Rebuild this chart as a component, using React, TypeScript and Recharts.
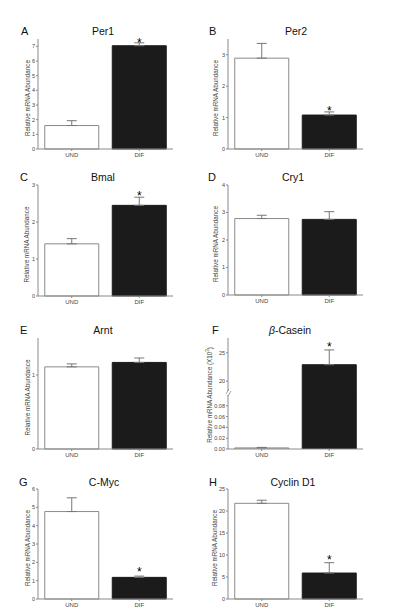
import React from 'react';
import { ComposedChart, Bar, Cell, ErrorBar, Scatter, XAxis, YAxis } from 'recharts';

const FONT = '"Liberation Sans", Arial, sans-serif';
const AXIS = '#8a8a8a';
const TEXT = '#444';

const categories = ['UND', 'DIF'];
const barFills = ['#ffffff', '#1b1b1b'];
const barStrokes = ['#8a8a8a', '#1b1b1b'];

// values (mean, upper error, asterisk height)
const per1 = [1.6, 7.04];
const per1Err = [0.33, 0.2];
const per1Star = [null, 7.43];

const per2 = [2.89, 1.08];
const per2Err = [0.47, 0.1];
const per2Star = [null, 1.3];

const bmal = [1.41, 2.45];
const bmalErr = [0.14, 0.22];
const bmalStar = [null, 2.78];

const cry1 = [2.78, 2.75];
const cry1Err = [0.12, 0.28];
const cry1Star = [null, null];

const arnt = [1.11, 1.17];
const arntErr = [0.04, 0.06];
const arntStar = [null, null];

const casein = [0.002, 22.9];
const caseinErr = [0.001, 2.6];
const caseinStar = [null, 26.5];

const cmyc = [4.77, 1.18];
const cmycErr = [0.75, 0.07];
const cmycStar = [null, 1.64];

const cyclin = [21.75, 5.9];
const cyclinErr = [0.7, 2.35];
const cyclinStar = [null, 9.4];

type Row = { name: string; value: number | null; err: number[] | null; star: number | null; idx: number };

const rows = (vals: (number | null)[], errs: (number | null)[], stars: (number | null)[]): Row[] =>
  categories.map((name, i) => ({
    name,
    value: vals[i],
    err: errs[i] == null ? null : [0, errs[i] as number],
    star: stars[i],
    idx: i,
  }));

const StarShape = (p: any) => {
  if (p.payload?.star == null || p.cx == null || p.cy == null) return <g />;
  return (
    <text x={p.cx} y={p.cy + 6.8} textAnchor="middle" fontSize={12} fontFamily={FONT} fill="#000">
      *
    </text>
  );
};

const yLabel = (x: number, y: number, sup?: boolean) => () => (
  <text
    x={x}
    y={y}
    transform={`rotate(-90, ${x}, ${y})`}
    textAnchor="middle"
    dominantBaseline="central"
    fontSize={6.3}
    fontFamily={FONT}
    fill={TEXT}
  >
    Relative mRNA Abundance{sup ? ' (X10' : ''}
    {sup ? <tspan fontSize={4.5} dy={-2.5}>3</tspan> : null}
    {sup ? <tspan dy={2.5}>)</tspan> : null}
  </text>
);

type PanelProps = {
  col: number;
  plotTop: number;
  plotBottom: number;
  data: Row[];
  domain: [number, number];
  ticks: number[];
  labelX: number;
};

const Panel = ({ col, plotTop, plotBottom, data, domain, ticks, labelX }: PanelProps) => {
  const left = col * 200;
  const top = plotTop - 30;
  const height = plotBottom - plotTop + 30 + 14;
  const ml = col === 0 ? 18 : 8;
  const mr = col === 0 ? 27 : 37;
  return (
    <div style={{ position: 'absolute', left, top }}>
      <ComposedChart
        width={200}
        height={height}
        data={data}
        margin={{ top: 30, right: mr, bottom: 0, left: ml }}
        barCategoryGap="10%"
      >
        <XAxis
          dataKey="name"
          height={14}
          interval={0}
          tickSize={2}
          tickMargin={2}
          axisLine={{ stroke: AXIS }}
          tickLine={{ stroke: AXIS }}
          tick={{ fontSize: 6, fill: TEXT, fontFamily: FONT }}
        />
        <YAxis
          type="number"
          width={20}
          domain={domain}
          ticks={ticks}
          interval={0}
          tickSize={2}
          tickMargin={1}
          axisLine={{ stroke: AXIS }}
          tickLine={{ stroke: AXIS }}
          tick={{ fontSize: 5.5, fill: TEXT, fontFamily: FONT }}
          label={{ content: yLabel(labelX - left, 30 + (plotBottom - plotTop) / 2 + 4) }}
        />
        <Bar dataKey="value" isAnimationActive={false} strokeWidth={1}>
          {data.map((d) => (
            <Cell key={d.name} fill={barFills[d.idx]} stroke={barStrokes[d.idx]} />
          ))}
          <ErrorBar dataKey="err" width={5} stroke="#777" strokeWidth={1} direction="y" />
        </Bar>
        <Scatter dataKey="star" isAnimationActive={false} shape={StarShape} />
      </ComposedChart>
    </div>
  );
};

// beta-casein: broken axis, two stacked charts meeting at the break
const caseinLowDomain: [number, number] = [0, 0.098];
const caseinLowTicks = [0, 0.02, 0.04, 0.06, 0.08];
const caseinHighDomain: [number, number] = [17.4, 27.6];
const caseinHighTicks = [20, 25];

const CaseinPanel = () => {
  const top = 308;
  const height = 155;
  const all = rows(casein, caseinErr, caseinStar);
  const low = all.map((r) => (r.value != null && r.value > caseinLowDomain[1] ? { ...r, err: null, star: null } : r));
  const high = all.map((r) =>
    r.value != null && r.value < caseinHighDomain[0] ? { ...r, value: null, err: null, star: null } : r,
  );
  const yTick = { fontSize: 5.5, fill: TEXT, fontFamily: FONT };
  return (
    <>
      <div style={{ position: 'absolute', left: 200, top }}>
        <ComposedChart
          width={200}
          height={height}
          data={low}
          margin={{ top: 88, right: 37, bottom: 0, left: 8 }}
          barCategoryGap="10%"
        >
          <XAxis
            dataKey="name"
            height={14}
            interval={0}
            tickSize={2}
            tickMargin={2}
            axisLine={{ stroke: AXIS }}
            tickLine={{ stroke: AXIS }}
            tick={{ fontSize: 6, fill: TEXT, fontFamily: FONT }}
          />
          <YAxis
            type="number"
            width={20}
            domain={caseinLowDomain}
            ticks={caseinLowTicks}
            allowDataOverflow
            interval={0}
            tickSize={2}
            tickMargin={1}
            axisLine={{ stroke: AXIS }}
            tickLine={{ stroke: AXIS }}
            tick={yTick}
            tickFormatter={(v: number) => v.toFixed(2)}
            label={{ content: yLabel(9, 87, true) }}
          />
          <Bar dataKey="value" isAnimationActive={false} strokeWidth={1}>
            {low.map((d) => (
              <Cell key={d.name} fill={barFills[d.idx]} stroke={barStrokes[d.idx]} />
            ))}
            <ErrorBar dataKey="err" width={5} stroke="#777" strokeWidth={1} direction="y" />
          </Bar>
        </ComposedChart>
      </div>
      <div style={{ position: 'absolute', left: 200, top }}>
        <ComposedChart
          width={200}
          height={height}
          data={high}
          margin={{ top: 30, right: 37, bottom: 67, left: 8 }}
          barCategoryGap="10%"
        >
          <XAxis dataKey="name" hide />
          <YAxis
            type="number"
            width={20}
            domain={caseinHighDomain}
            ticks={caseinHighTicks}
            allowDataOverflow
            interval={0}
            tickSize={2}
            tickMargin={1}
            axisLine={{ stroke: AXIS }}
            tickLine={{ stroke: AXIS }}
            tick={yTick}
          />
          <Bar dataKey="value" isAnimationActive={false} strokeWidth={1}>
            {high.map((d) => (
              <Cell key={d.name} fill={barFills[d.idx]} stroke={barStrokes[d.idx]} />
            ))}
            <ErrorBar dataKey="err" width={5} stroke="#777" strokeWidth={1} direction="y" />
          </Bar>
          <Scatter dataKey="star" isAnimationActive={false} shape={StarShape} />
        </ComposedChart>
      </div>
    </>
  );
};

const titles = [
  { letter: 'A', lx: 21, title: 'Per1', tx: 103, y: 35 },
  { letter: 'B', lx: 209, title: 'Per2', tx: 296, y: 35 },
  { letter: 'C', lx: 20, title: 'Bmal', tx: 103, y: 181 },
  { letter: 'D', lx: 208, title: 'Cry1', tx: 293, y: 181 },
  { letter: 'E', lx: 20, title: 'Arnt', tx: 103, y: 334 },
  { letter: 'F', lx: 212, title: '', tx: 290, y: 334 },
  { letter: 'G', lx: 19, title: 'C-Myc', tx: 104, y: 486 },
  { letter: 'H', lx: 209, title: 'Cyclin D1', tx: 293, y: 486 },
];

export default function App() {
  return (
    <div style={{ position: 'absolute', left: 0, top: 0, width: 400, height: 609, background: '#fff' }}>
      <Panel col={0} plotTop={39} plotBottom={149} data={rows(per1, per1Err, per1Star)} domain={[0, 7.5]} ticks={[0, 1, 2, 3, 4, 5, 6, 7]} labelX={27} />
      <Panel col={1} plotTop={39} plotBottom={149} data={rows(per2, per2Err, per2Star)} domain={[0, 3.5]} ticks={[0, 1, 2, 3]} labelX={215} />
      <Panel col={0} plotTop={185} plotBottom={296} data={rows(bmal, bmalErr, bmalStar)} domain={[0, 3]} ticks={[0, 1, 2, 3]} labelX={26} />
      <Panel col={1} plotTop={185} plotBottom={295} data={rows(cry1, cry1Err, cry1Star)} domain={[0, 4]} ticks={[0, 1, 2, 3, 4]} labelX={215} />
      <Panel col={0} plotTop={338} plotBottom={449} data={rows(arnt, arntErr, arntStar)} domain={[0, 1.5]} ticks={[0, 1]} labelX={27} />
      <CaseinPanel />
      <Panel col={0} plotTop={489} plotBottom={599} data={rows(cmyc, cmycErr, cmycStar)} domain={[0, 6]} ticks={[0, 1, 2, 3, 4, 5, 6]} labelX={27} />
      <Panel col={1} plotTop={489} plotBottom={599} data={rows(cyclin, cyclinErr, cyclinStar)} domain={[0, 25]} ticks={[0, 5, 10, 15, 20, 25]} labelX={214} />
      <svg
        width={400}
        height={609}
        style={{ position: 'absolute', left: 0, top: 0, pointerEvents: 'none' }}
        fontFamily={FONT}
      >
        {titles.map((t) => (
          <g key={t.letter}>
            <text x={t.lx} y={t.y} fontSize={11} fill="#111">
              {t.letter}
            </text>
            {t.title ? (
              <text x={t.tx} y={t.y} fontSize={10.5} fill="#111" textAnchor="middle">
                {t.title}
              </text>
            ) : null}
          </g>
        ))}
        <text x={290} y={334} fontSize={10.5} fill="#111" textAnchor="middle">
          <tspan fontStyle="italic">β</tspan>-Casein
        </text>
        {/* axis break */}
        <rect x={227} y={391} width={4} height={4} fill="#fff" />
        <line x1={226} y1={394} x2={229} y2={389} stroke={AXIS} strokeWidth={0.8} />
        <line x1={228} y1={396} x2={231} y2={391} stroke={AXIS} strokeWidth={0.8} />
      </svg>
    </div>
  );
}
